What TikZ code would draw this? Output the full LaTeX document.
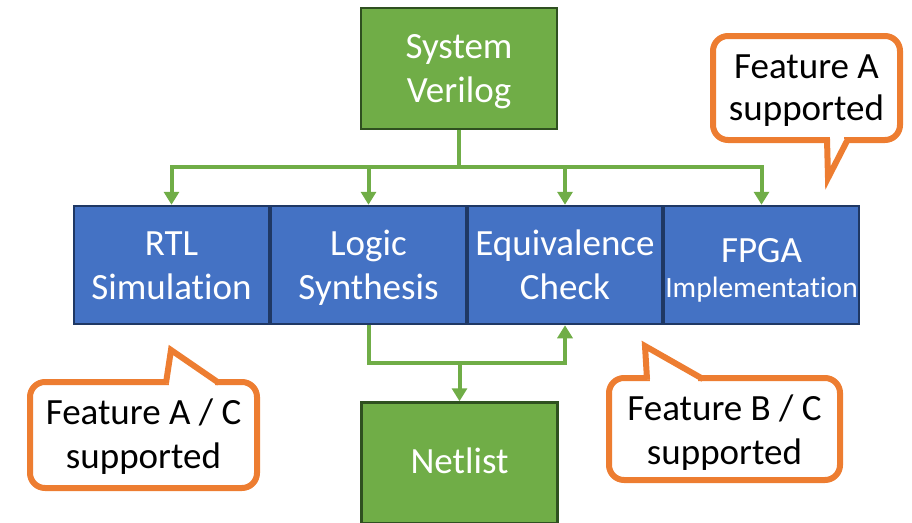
\documentclass[tikz,border=0pt]{standalone}
\usepackage{fontspec}
\setmainfont{Carlito}[Ligatures={NoCommon}]
\usetikzlibrary{arrows.meta}

\definecolor{boxgreen}{HTML}{70AD47}
\definecolor{greenedge}{HTML}{2F5020}
\definecolor{boxblue}{HTML}{4472C4}
\definecolor{blueedge}{HTML}{1F3864}
\definecolor{linegreen}{HTML}{70AD47}
\definecolor{calloutorange}{HTML}{ED7D31}

% invisible struts fixing the height of a first line / depth of a last line
\newcommand{\up}[1]{\rule{0pt}{#1pt}}
\newcommand{\down}[1]{\rule[-#1pt]{0pt}{#1pt}}

\begin{document}
\begin{tikzpicture}[x=1pt,y=-1pt,
  bigfont/.style={font=\fontsize{37}{44}\selectfont},
  greenbox/.style={draw=greenedge, fill=boxgreen, line width=2.5pt,
    minimum width=196pt, minimum height=121pt, inner sep=0pt,
    text=white, align=center, bigfont},
  bluebox/.style={draw=blueedge, fill=boxblue, line width=2.5pt,
    minimum width=195pt, minimum height=118pt, inner sep=0pt,
    text=white, align=center, bigfont},
  conn/.style={draw=linegreen, line width=4pt},
  arr/.style={-{Triangle[width=15pt,length=13pt]}},
  calloutbody/.style={draw=calloutorange, fill=white, line width=6pt,
    rounded corners=15pt, inner sep=0pt, align=center, text=black, bigfont},
  callouttail/.style={draw=calloutorange, fill=white, line width=6pt,
    line join=miter, miter limit=20}
]
\useasboundingbox (0,0) rectangle (912,522);
\clip (0,0) rectangle (912,522);

% source and result boxes
\node[greenbox] (sv)  at (459,68.5) {\up{34}System\\Verilog\down{10}};
\node[greenbox] (net) at (459.5,463) {\up{30}Netlist\down{10}};

% tool row
\node[bluebox] (rtl)  at (171.5,265) {\up{35}RTL\\Simulation\down{10}};
\node[bluebox] (syn)  at (368.5,265) {\up{35}Logic\\Synthesis\down{10}};
\node[bluebox] (eqv)  at (565,265)   {\up{35}Equivalence\\Check\down{10}};
\node[bluebox] (fpga) at (761.5,265)
  {\up{39}FPGA\\[-9pt]{\fontsize{29.5}{34}\selectfont Implementation\down{10}}};

% fan-out from the source to every tool
\path (sv.south) ++(0,37) coordinate (top);
\draw[conn] (sv.south) -- (top);
\draw[conn,arr] (top) -| (rtl.north);
\draw[conn,arr] (top) -| (syn.north);
\draw[conn,arr] (top) -| (eqv.north);
\draw[conn,arr] (top) -| (fpga.north);

% synthesis output feeds the netlist and the equivalence check
\path (syn.south) ++(0,38) coordinate (low);
\coordinate (mid) at (net.north |- low);
\draw[conn,arr] (syn.south) -- (low) -| (eqv.south);
\draw[conn,arr] (mid) -- (net.north);

% callout: lower left
\node[calloutbody, minimum width=227pt, minimum height=106pt] (c1)
  at (143.5,435) {\up{33}Feature A / C\\supported\down{10}};
\fill[white] (169,376) rectangle (215,389);
\draw[callouttail] (166,383) -- (171,350) -- (219,383);

% callout: lower right
\node[calloutbody, minimum width=231pt, minimum height=102pt] (c2)
  at (724.5,429) {\up{36}Feature B / C\\supported\down{10}};
\fill[white] (650,372) rectangle (698,385);
\draw[callouttail] (647,379) -- (645,346) -- (703,379);

% callout: upper right
\node[calloutbody, minimum width=187pt, minimum height=104pt,
  font=\fontsize{37}{42}\selectfont] (c3)
  at (806.5,88) {\up{32}Feature A\\supported\down{10}};
\fill[white] (830,133) rectangle (844,147);
\draw[callouttail] (827,139) -- (828,178) -- (848,139);
\end{tikzpicture}
\end{document}
